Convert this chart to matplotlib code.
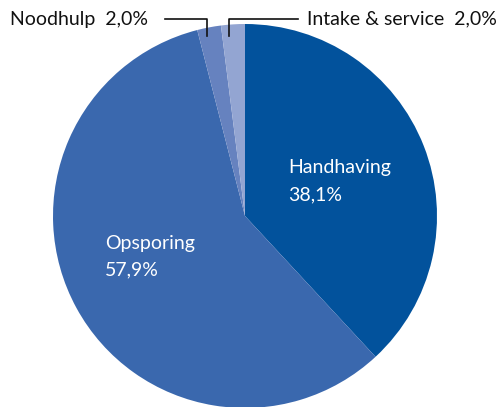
import matplotlib
matplotlib.use("Agg")
import matplotlib.pyplot as plt

categories = ["Handhaving", "Opsporing", "Noodhulp", "Intake & service"]
values = [38.1, 57.9, 2.0, 2.0]
labels = ["38,1%", "57,9%", "2,0%", "2,0%"]
colors = ["#02529C", "#3A68AE", "#6682BF", "#93A5D2"]

plt.rcParams['font.family'] = ['Lato', 'DejaVu Sans']

W, H = 503, 407
fig = plt.figure(figsize=(W / 100, H / 100), dpi=100)
ax = fig.add_axes([0, 0, 1, 1])

cx, cy, r = 245, H - 216, 192
ax.pie(values, colors=colors, startangle=90, counterclock=False,
       center=(cx, cy), radius=r, frame=True,
       wedgeprops=dict(linewidth=0))
ax.set_xlim(0, W)
ax.set_ylim(0, H)
ax.set_aspect('equal')
ax.axis('off')

fs = 14
def Y(y):
    return H - y

ax.text(288, Y(168), categories[0], color='white', fontsize=fs, ha='left', va='center')
ax.text(288, Y(195), labels[0], color='white', fontsize=fs, ha='left', va='center')
ax.text(105, Y(244), categories[1], color='white', fontsize=fs, ha='left', va='center')
ax.text(105, Y(270), labels[1], color='white', fontsize=fs, ha='left', va='center')

ax.text(10, Y(19), categories[2] + "  " + labels[2], color='#111111', fontsize=fs, ha='left', va='center')
ax.text(497, Y(19), categories[3] + "  " + labels[3], color='#111111', fontsize=fs, ha='right', va='center')

ax.plot([165, 207, 207], [Y(19), Y(19), Y(36)], color='#111111', lw=1.2)
ax.plot([229, 229, 298], [Y(36), Y(19), Y(19)], color='#111111', lw=1.2)

fig.savefig("out.png", dpi=100)
